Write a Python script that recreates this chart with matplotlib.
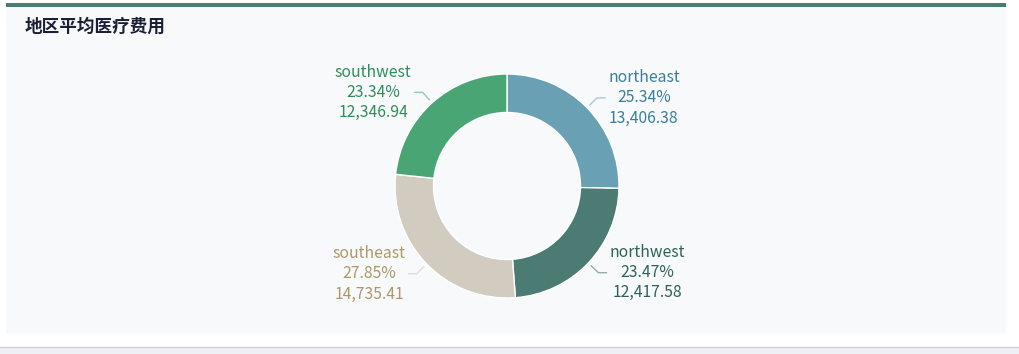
import numpy as np
import matplotlib
matplotlib.use("Agg")
import matplotlib.pyplot as plt
from matplotlib.patches import Rectangle

plt.rcParams['font.family'] = ['Noto Sans CJK SC', 'DejaVu Sans']

# 数据
regions = ["northeast", "northwest", "southeast", "southwest"]
charges = [13406.38, 12417.58, 14735.41, 12346.94]
colors = ["#6aa0b4", "#4b7b73", "#d1ccbf", "#4aa574"]
text_colors = ["#3a7e98", "#2f6158", "#ad9768", "#2e8d5a"]
line_colors = ["#a9c9d6", "#8fb0aa", "#e2ddd2", "#95cdb0"]
title = "地区平均医疗费用"

W, H = 1019, 354
fig = plt.figure(figsize=(W / 100, H / 100), dpi=100)
fig.patch.set_facecolor("white")
ax = fig.add_axes([0, 0, 1, 1])
ax.set_xlim(0, W)
ax.set_ylim(0, H)
ax.axis("off")

# 卡片背景
ax.add_patch(Rectangle((6, H - 334), 1000, 331, facecolor="#f7f9fb", edgecolor="none", zorder=0))
ax.add_patch(Rectangle((6, H - 7), 1000, 4, facecolor="#4b7b73", edgecolor="none", zorder=1))
ax.add_patch(Rectangle((0, 0), W, H - 347, facecolor="#eef0f5", edgecolor="none", zorder=0))
ax.plot([0, W], [H - 347, H - 347], color="#d0d2dc", lw=1, zorder=1)

ax.text(25, H - 27, title, fontsize=12.7, fontweight="heavy", color="#1a1f36",
        ha="left", va="center")

# 环形图
cx, cy, r = 507, H - 186, 112
wedges, _ = ax.pie(charges, colors=colors, center=(cx, cy), radius=r,
                   startangle=90, counterclock=False,
                   wedgeprops=dict(width=38.5, edgecolor="white", linewidth=1))
ax.set_xlim(0, W)
ax.set_ylim(0, H)
ax.set_aspect("equal")

total = sum(charges)
for w, name, val, tc, lc in zip(wedges, regions, charges, text_colors, line_colors):
    ang = np.deg2rad((w.theta1 + w.theta2) / 2)
    x1, y1 = cx + 116 * np.cos(ang), cy + 116 * np.sin(ang)
    x2, y2 = cx + 126 * np.cos(ang), cy + 126 * np.sin(ang)
    side = 1 if np.cos(ang) > 0 else -1
    x3 = x2 + side * 8
    ax.plot([x1, x2, x3], [y1, y2, y2], color=lc, lw=1, zorder=3)
    label = f"{name}\n{val / total * 100:.2f}%\n{val:,.2f}"
    ax.text(x3 + side * 3, y2, label, color=tc, fontsize=11.3,
            ha="left" if side > 0 else "right", va="center",
            multialignment="center", linespacing=1.25)

fig.savefig("out.png", dpi=100)
